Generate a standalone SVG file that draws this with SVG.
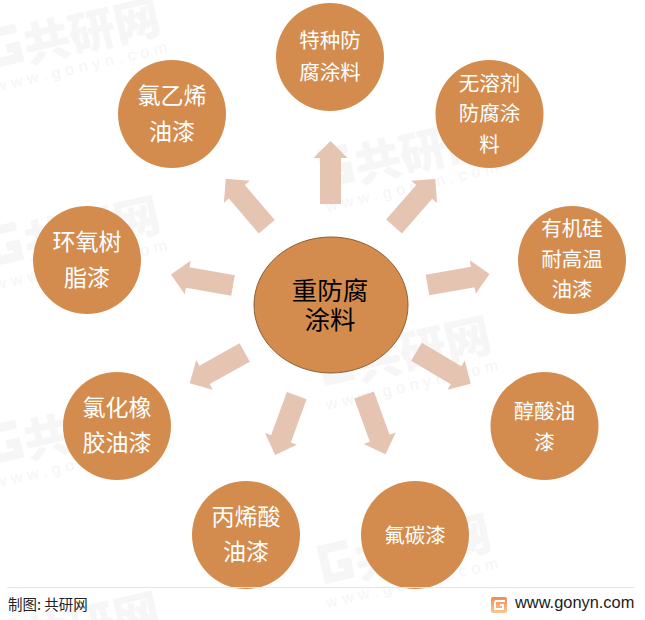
<svg xmlns="http://www.w3.org/2000/svg" width="645" height="620" viewBox="0 0 645 620">
<style>
text{font-family:"Liberation Sans","Noto Sans CJK SC",sans-serif}
.n{fill:#D38C4E}
.c{fill:#D38C4E;stroke:#8E5E33;stroke-width:1}
.t{fill:#fff;text-anchor:middle;font-family:"Noto Sans CJK SC",sans-serif;font-size:20.5px}
.b{font-size:23px}
.k{fill:#000;text-anchor:middle;font-family:"Noto Sans CJK SC",sans-serif;font-size:25.5px}
.a{fill:#E5C4B1}
.wm1{fill:#F6F6F6;font-family:"Noto Sans CJK SC",sans-serif;font-weight:900;font-size:46px}
.wm2{fill:#F5F5F5;font-family:"Liberation Sans",sans-serif;font-size:16px;letter-spacing:5px}
.wg{fill:none;stroke:#F6F6F6;stroke-width:9}
</style>
<defs>
<linearGradient id="lg" x1="0" y1="0" x2="0" y2="1"><stop offset="0" stop-color="#F08A55"/><stop offset="1" stop-color="#F9C98F"/></linearGradient>
<path id="arrow" d="M-10.5 0V-46H-17L0-63L17-46H10.5V0Z"/>
<g id="wm">
<path class="wg" d="M34 -58H8V-28H30V-40H20"/>
<text class="wm1" x="38" y="-21">共研网</text>
<text class="wm2" x="0" y="0">www.gonyn.com</text>
</g>
</defs>
<g id="watermarks">
<use href="#wm" transform="translate(-4,92) rotate(-13)"/>
<use href="#wm" transform="translate(-4,290) rotate(-13)"/>
<use href="#wm" transform="translate(-4,488) rotate(-13)"/>
<use href="#wm" transform="translate(-4,686) rotate(-13)"/>
<use href="#wm" transform="translate(327,212) rotate(-13)"/>
<use href="#wm" transform="translate(327,410) rotate(-13)"/>
<use href="#wm" transform="translate(327,608) rotate(-13)"/>
</g>
<g id="connectors" class="a">
<use href="#arrow" transform="translate(330.5,204)"/>
<use href="#arrow" transform="translate(394,226.5) rotate(41)"/>
<use href="#arrow" transform="translate(427.5,285) rotate(80)"/>
<use href="#arrow" transform="translate(416.5,351.8) rotate(120.6)"/>
<use href="#arrow" transform="translate(364,395) rotate(160)"/>
<use href="#arrow" transform="translate(296.7,395.7) rotate(200)"/>
<use href="#arrow" transform="translate(244.7,352.5) rotate(240.8)"/>
<use href="#arrow" transform="translate(233,285.5) rotate(-80)"/>
<use href="#arrow" transform="translate(266.7,226.7) rotate(-40.5)"/>
</g>
<g id="center"><ellipse class="c" cx="331" cy="305" rx="77" ry="68"/><text class="k"><tspan x="330" y="299.5">重防腐</tspan><tspan x="330" y="328.5">涂料</tspan></text></g>
<g id="n1"><circle class="n" cx="330" cy="57" r="54"/><text class="t" x="330" y="48">特种防</text><text class="t" x="330" y="80">腐涂料</text></g>
<g id="n2"><circle class="n" cx="489.5" cy="114" r="54"/><text class="t" x="489.5" y="91">无溶剂</text><text class="t" x="489.5" y="121">防腐涂</text><text class="t" x="489.5" y="152">料</text></g>
<g id="n3"><circle class="n" cx="572" cy="260" r="54"/><text class="t" x="572" y="236">有机硅</text><text class="t" x="572" y="267">耐高温</text><text class="t" x="572" y="297">油漆</text></g>
<g id="n4"><circle class="n" cx="544.5" cy="426" r="54"/><text class="t" x="544.5" y="419">醇酸油</text><text class="t" x="544.5" y="450">漆</text></g>
<g id="n5"><circle class="n" cx="415" cy="535" r="54"/><text class="t" x="415" y="543">氟碳漆</text></g>
<g id="n6"><circle class="n" cx="246" cy="535" r="54"/><text class="t b" x="246" y="525">丙烯酸</text><text class="t b" x="246" y="560">油漆</text></g>
<g id="n7"><circle class="n" cx="117" cy="426" r="54"/><text class="t b" x="117" y="416">氯化橡</text><text class="t b" x="117" y="451">胶油漆</text></g>
<g id="n8"><circle class="n" cx="87" cy="260" r="54"/><text class="t b" x="87" y="250">环氧树</text><text class="t b" x="87" y="286">脂漆</text></g>
<g id="n9"><circle class="n" cx="172" cy="114" r="54"/><text class="t b" x="172" y="104">氯乙烯</text><text class="t b" x="172" y="140">油漆</text></g>
<g id="footer">
<line x1="7" y1="587.5" x2="634" y2="587.5" stroke="#E6E6E6"/>
<text x="8" y="610" font-size="14.5" fill="#222" style="font-family:'Noto Sans CJK SC',sans-serif">制图: 共研网</text>
<rect x="491" y="597" width="16" height="16" rx="2" fill="url(#lg)"/>
<path d="M495 601H505M495 601V609H503V605H500" fill="none" stroke="#fff" stroke-width="2"/>
<text x="515" y="608" font-size="16.4" fill="#222" style="font-family:'Liberation Sans',sans-serif">www.gonyn.com</text>
</g>
</svg>
